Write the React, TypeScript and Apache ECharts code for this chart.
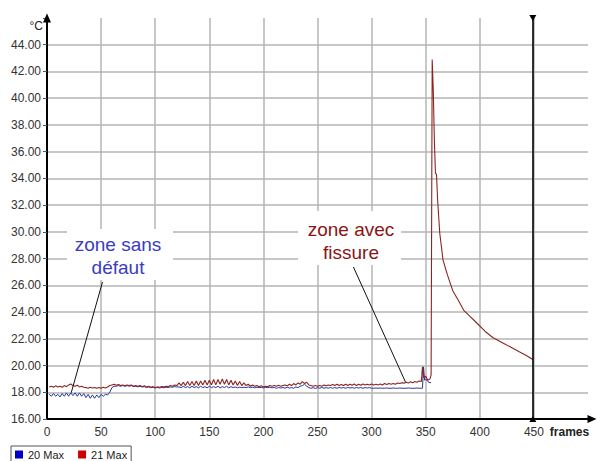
import React, { useEffect, useRef } from "react";
import * as echarts from "echarts";

// Sampling of the flat part (frames)
const FLAT_START = 2;
const FLAT_STEP = 2;

// 21 Max (red) – flat part, one value every 2 frames from frame 2
const redFlat: number[] = [
  18.4, 18.45, 18.38, 18.48, 18.4, 18.45, 18.38, 18.5, 18.42, 18.55, 18.62, 18.5, 18.45, 18.52, 18.4, 18.45, 18.38, 18.35, 18.3, 18.38, 18.32, 18.36, 18.3, 18.35, 18.3, 18.38, 18.32, 18.4,
  18.5, 18.55, 18.6, 18.52, 18.58, 18.5, 18.55, 18.48, 18.55, 18.5, 18.55, 18.45, 18.5, 18.45, 18.5, 18.42, 18.48, 18.4, 18.45, 18.38, 18.42, 18.35, 18.4, 18.38, 18.42, 18.4, 18.45, 18.42, 18.5, 18.45, 18.55, 18.5,
  18.7, 18.5, 18.75, 18.5, 18.8, 18.5, 18.8, 18.5, 18.85, 18.5, 18.85, 18.55, 18.9, 18.55, 18.9, 18.55, 18.95, 18.55, 18.95, 18.6, 19.0, 18.6, 18.95, 18.55, 18.9, 18.55, 18.85, 18.5, 18.8, 18.5,
  18.7, 18.5, 18.6, 18.45, 18.55, 18.45, 18.5, 18.42, 18.48, 18.4, 18.45, 18.42, 18.5, 18.45, 18.5, 18.45, 18.52, 18.45, 18.5, 18.55, 18.48, 18.6, 18.5, 18.65, 18.55, 18.7, 18.6, 18.8, 18.65, 18.75,
  18.55, 18.5, 18.45, 18.5, 18.45, 18.5, 18.45, 18.55, 18.48, 18.55, 18.5, 18.58, 18.5, 18.6, 18.5, 18.58, 18.5, 18.6, 18.5, 18.6, 18.52, 18.62, 18.5, 18.6, 18.52, 18.62, 18.55, 18.6, 18.55, 18.62,
  18.55, 18.6, 18.55, 18.62, 18.55, 18.65, 18.58, 18.65, 18.6, 18.65, 18.6, 18.7, 18.65, 18.72, 18.68, 18.75, 18.7, 18.78, 18.72, 18.8, 18.75, 18.85, 18.8,
];
// 21 Max – crack peak and cooling
const redTailFrames: number[] = [347, 348, 350, 352, 354, 355, 356, 357, 358, 359, 360, 361, 363, 366, 370, 375, 380, 385, 390, 397, 405, 412, 420, 428, 436, 443, 449];
const redTailValues: number[] = [19.9, 19.1, 19.2, 18.9, 19.0, 19.3, 42.9, 40.6, 36.9, 34.4, 34.3, 32.4, 29.9, 27.9, 26.8, 25.6, 24.9, 24.15, 23.75, 23.2, 22.55, 22.1, 21.75, 21.4, 21.05, 20.75, 20.45];

// 20 Max (blue) – flat part
const blueFlat: number[] = [
  17.85, 17.7, 17.9, 17.7, 17.85, 17.65, 17.9, 17.7, 17.95, 17.7, 17.95, 17.75, 17.95, 17.7, 17.95, 17.7, 17.9, 17.6, 17.85, 17.55, 17.8, 17.55, 17.8, 17.6, 17.85, 17.7, 17.85, 17.8,
  18.0, 18.35, 18.45, 18.45, 18.5, 18.45, 18.5, 18.45, 18.5, 18.45, 18.5, 18.42, 18.45, 18.4, 18.45, 18.4, 18.42, 18.36, 18.4, 18.34, 18.38, 18.32, 18.36, 18.32, 18.36, 18.34, 18.38, 18.36, 18.4, 18.38, 18.42, 18.4,
  18.4, 18.35, 18.45, 18.35, 18.42, 18.33, 18.45, 18.35, 18.42, 18.33, 18.45, 18.35, 18.42, 18.33, 18.45, 18.35, 18.42, 18.35, 18.45, 18.33, 18.42, 18.35, 18.45, 18.33, 18.42, 18.35, 18.4, 18.33, 18.38, 18.35,
  18.38, 18.35, 18.4, 18.35, 18.38, 18.33, 18.38, 18.35, 18.36, 18.33, 18.36, 18.35, 18.38, 18.33, 18.36, 18.3, 18.35, 18.32, 18.36, 18.3, 18.38, 18.32, 18.35, 18.3, 18.4, 18.35, 18.45, 18.5, 18.6, 18.45,
  18.35, 18.3, 18.35, 18.28, 18.35, 18.3, 18.36, 18.3, 18.35, 18.3, 18.36, 18.3, 18.35, 18.3, 18.36, 18.32, 18.35, 18.3, 18.36, 18.32, 18.35, 18.3, 18.36, 18.32, 18.35, 18.3, 18.35, 18.32, 18.35, 18.3,
  18.3, 18.32, 18.3, 18.32, 18.3, 18.3, 18.32, 18.3, 18.3, 18.32, 18.3, 18.3, 18.32, 18.3, 18.3, 18.3, 18.32, 18.3, 18.3, 18.3, 18.32, 18.3, 18.3,
];
const blueTailFrames: number[] = [347, 348, 349, 350, 352, 354, 355];
const blueTailValues: number[] = [18.3, 19.9, 18.9, 19.0, 18.8, 18.7, 18.75];

const seriesNames = ["20 Max", "21 Max"];
const xTicks = { min: 0, max: 500, interval: 50, lastLabel: 450 };
const yTicks = { min: 16, max: 46, interval: 2, lastLabel: 44 };
const cursorFrame = 449;

// annotation connectors [frame, °C]
const noDefectLine: [number, number][] = [[51.3, 26.25], [22.4, 17.97]];
const crackLine: [number, number][] = [[283.2, 27.37], [331.3, 18.77]];

function build(flat: number[], tailF: number[], tailV: number[]): [number, number][] {
  const pts: [number, number][] = flat.map((v, i) => [FLAT_START + i * FLAT_STEP, v]);
  tailF.forEach((f, i) => pts.push([f, tailV[i]]));
  return pts;
}

const FONT = "'Liberation Sans', Arial, sans-serif";

export default function App() {
  const ref = useRef<HTMLDivElement>(null);
  useEffect(() => {
    if (!ref.current) return;
    const chart = echarts.init(ref.current, null, { renderer: "svg" });
    const blueData = build(blueFlat, blueTailFrames, blueTailValues);
    const redData = build(redFlat, redTailFrames, redTailValues);
    chart.setOption({
      animation: false,
      backgroundColor: "#ffffff",
      textStyle: { fontFamily: FONT },
      grid: { left: 47, right: 10, top: 18, bottom: 42, containLabel: false },
      legend: {
        left: 11,
        top: 446,
        padding: [3, 4, 3, 4],
        itemGap: 14,
        itemWidth: 8,
        itemHeight: 8,
        icon: "rect",
        borderColor: "#555",
        borderWidth: 1,
        borderRadius: 0,
        textStyle: { fontSize: 11, color: "#222", fontFamily: FONT },
        data: seriesNames,
      },
      xAxis: {
        type: "value",
        min: xTicks.min,
        max: xTicks.max,
        interval: xTicks.interval,
        name: "frames",
        nameLocation: "end",
        nameGap: -50,
        nameTextStyle: { fontSize: 12, fontWeight: "bold", color: "#222", align: "left", verticalAlign: "top", padding: [7, 0, 0, 0] },
        axisLine: { show: true, lineStyle: { color: "#000", width: 2 }, symbol: ["none", "triangle"], symbolSize: [8, 9], symbolOffset: [0, 4] },
        axisTick: { show: false },
        axisLabel: { fontSize: 12, color: "#333", margin: 7, formatter: (v: number) => (v > xTicks.lastLabel ? "" : String(v)) },
        splitLine: { show: true, showMinLine: false, showMaxLine: false, lineStyle: { color: "#b4b4b4", width: 1.5 } },
      },
      yAxis: {
        type: "value",
        min: yTicks.min,
        max: yTicks.max,
        interval: yTicks.interval,
        name: "°C",
        nameLocation: "end",
        nameGap: -8,
        nameTextStyle: { fontSize: 12, color: "#222", align: "right", verticalAlign: "middle", padding: [0, 4, 0, 0] },
        axisLine: { show: true, lineStyle: { color: "#000", width: 2 }, symbol: ["none", "triangle"], symbolSize: [8, 9], symbolOffset: [0, 0] },
        axisTick: { show: true, length: 4, lineStyle: { color: "#555" } },
        axisLabel: { fontSize: 12, color: "#333", margin: 6, formatter: (v: number) => (v > yTicks.lastLabel ? "" : v.toFixed(2)) },
        splitLine: { show: true, showMinLine: false, showMaxLine: false, lineStyle: { color: "#b4b4b4", width: 1.5 } },
      },
      graphic: [
        { type: "rect", shape: { x: 67, y: 229, width: 106, height: 51 }, style: { fill: "#fff" }, z: 50 },
        {
          type: "text",
          x: 118,
          y: 256,
          z: 51,
          style: { text: "zone sans\ndéfaut", fill: "#3b3bc4", font: `19px ${FONT}`, align: "center", verticalAlign: "middle", lineHeight: 23 },
        },
        { type: "rect", shape: { x: 298, y: 211, width: 103, height: 54 }, style: { fill: "#fff" }, z: 50 },
        {
          type: "text",
          x: 351,
          y: 241,
          z: 51,
          style: { text: "zone avec\nfissure", fill: "#8b1414", font: `19px ${FONT}`, align: "center", verticalAlign: "middle", lineHeight: 23 },
        },
      ],
      series: [
        {
          name: seriesNames[0],
          type: "line",
          data: blueData,
          showSymbol: false,
          symbol: "none",
          itemStyle: { color: "#0000c8" },
          lineStyle: { color: "#2a3598", width: 1 },
          z: 3,
        },
        {
          name: seriesNames[1],
          type: "line",
          data: redData,
          showSymbol: false,
          symbol: "none",
          itemStyle: { color: "#cc0000" },
          lineStyle: { color: "#8c2424", width: 1.1 },
          z: 4,
          markLine: {
            silent: true,
            animation: false,
            label: { show: false },
            data: [
              [
                { coord: noDefectLine[0], symbol: "none" },
                { coord: noDefectLine[1], symbol: "none" },
              ],
              [
                { coord: crackLine[0], symbol: "none" },
                { coord: crackLine[1], symbol: "none" },
              ],
            ],
            lineStyle: { color: "#111", width: 1, type: "solid" },
          },
        },
        {
          name: "cursor",
          type: "line",
          data: [],
          markLine: {
            silent: true,
            animation: false,
            symbol: ["triangle", "triangle"],
            symbolSize: [7, 6],
            symbolRotate: [0, 180],
            label: { show: false },
            lineStyle: { color: "#000", width: 1.6, type: "solid" },
            itemStyle: { color: "#000" },
            data: [{ xAxis: cursorFrame }],
          },
        },
      ],
    });
    return () => chart.dispose();
  }, []);
  return <div ref={ref} style={{ position: "fixed", left: 0, top: 0, width: 598, height: 461 }} />;
}
